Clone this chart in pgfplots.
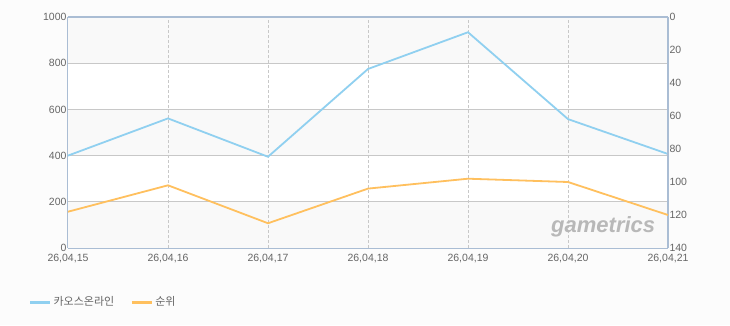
\documentclass[border=0pt]{standalone}
\usepackage{pgfplots}
\pgfplotsset{compat=1.18}
\usepackage{fontspec}
\setmainfont{Liberation Sans}
\newfontfamily\cjk{Noto Sans CJK KR}
\definecolor{bgc}{HTML}{FCFCFC}
\definecolor{bandc}{HTML}{F9F9F9}
\definecolor{framec}{HTML}{AABDD4}
\definecolor{gridc}{HTML}{C8C8C8}
\definecolor{tickc}{HTML}{666666}
\definecolor{bluec}{HTML}{90D0F0}
\definecolor{orangec}{HTML}{FFC05E}
\begin{document}
\begin{tikzpicture}[x=1pt,y=1pt]
\fill[bgc] (-68,-77) rectangle (662,248);
\begin{axis}[
  at={(0,0)}, anchor=south west,
  scale only axis, width=600pt, height=231pt,
  xmin=0, xmax=6, ymin=0, ymax=1000,
  axis line style={draw=framec, line width=1.2pt},
  axis y line*=left, axis x line*=bottom,
  xtick={0,...,6},
  xticklabels={{26,04,15},{26,04,16},{26,04,17},{26,04,18},{26,04,19},{26,04,20},{26,04,21}},
  ytick={0,200,...,1000},
  tick style={draw=none},
  ticklabel style={font=\fontsize{10.5}{12}\selectfont, text=tickc},
  /pgf/number format/assume math mode=true,
  /pgf/number format/1000 sep={},
  xticklabel style={yshift=-3pt},
  yticklabel style={xshift=2pt},
  ymajorgrids=false, xmajorgrids=false,
  clip=false,
  legend columns=2,
  legend style={at={(-0.071,-0.234)}, anchor=west, draw=none, fill=none,
    font=\cjk\fontsize{11}{13}\selectfont, text=tickc,
    /tikz/every even column/.append style={column sep=14pt}},
  legend image code/.code={\draw[#1, line width=3pt] (0pt,0pt) -- (20pt,0pt);},
]
% background bands
\fill[bandc] (axis cs:0,0) rectangle (axis cs:6,200);
\fill[white] (axis cs:0,200) rectangle (axis cs:6,400);
\fill[bandc] (axis cs:0,400) rectangle (axis cs:6,600);
\fill[white] (axis cs:0,600) rectangle (axis cs:6,800);
\fill[bandc] (axis cs:0,800) rectangle (axis cs:6,1000);
% grid
\foreach \yy in {200,400,600,800} {\edef\tmp{\noexpand\draw[gridc, line width=0.8pt] (axis cs:0,\yy) -- (axis cs:6,\yy);}\tmp}
\foreach \xx in {1,...,5} {\edef\tmp{\noexpand\draw[gridc, line width=0.6pt, dash pattern=on 3pt off 2pt] (axis cs:\xx,0) -- (axis cs:\xx,1000);}\tmp}
\node[font=\bfseries\itshape\fontsize{22}{24}\selectfont, text=black!28] at (axis description cs:0.892,0.091) {gametrics};
\addplot[bluec, line width=1.8pt] coordinates {(0,400) (1,561) (2,395) (3,775) (4,934) (5,558) (6,407)};
\addlegendentry{카오스온라인}
\addlegendimage{orangec, line width=1.8pt}
\addlegendentry{순위}
\draw[framec, line width=1.2pt] (rel axis cs:0,1) -- (rel axis cs:1,1);
\end{axis}
\begin{axis}[
  at={(0,0)}, anchor=south west,
  scale only axis, width=600pt, height=231pt,
  xmin=0, xmax=6, ymin=0, ymax=140, y dir=reverse,
  axis y line*=right, axis x line=none,
  axis line style={draw=framec, line width=1.2pt},
  ytick={0,20,...,140},
  tick style={draw=none},
  ticklabel style={font=\fontsize{10.5}{12}\selectfont, text=tickc},
  /pgf/number format/assume math mode=true,
  yticklabel style={xshift=-2pt},
  clip=false,
]
\addplot[orangec, line width=1.8pt] coordinates {(0,118) (1,102) (2,125) (3,104) (4,98) (5,100) (6,120)};
\end{axis}
\end{tikzpicture}
\end{document}
